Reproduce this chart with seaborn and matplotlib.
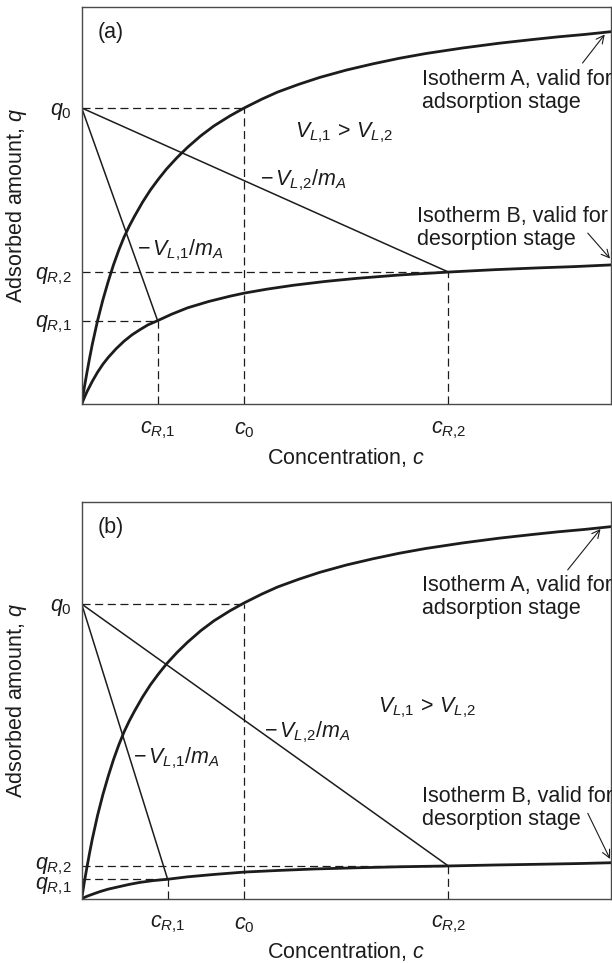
import matplotlib
matplotlib.use("Agg")
import matplotlib.pyplot as plt
import matplotlib.transforms as mtransforms
import pandas as pd
import seaborn as sns

# ---------------- data (axes units 0..1) ----------------
panel_tags = ["(a)", "(b)"]

# Isotherm A (adsorption) - same in both panels
iso_a_c = [0, 0.005, 0.01, 0.015, 0.02, 0.03, 0.04, 0.05, 0.06, 0.07, 0.08, 0.09,
           0.10, 0.115, 0.13, 0.145, 0.16, 0.18, 0.20, 0.225, 0.25, 0.28, 0.307,
           0.34, 0.37, 0.41, 0.45, 0.50, 0.55, 0.60, 0.65, 0.72, 0.789, 0.85,
           0.90, 0.95, 1.0]
iso_a_q = [0, 0.042, 0.08, 0.116, 0.15, 0.21, 0.262, 0.308, 0.35, 0.387, 0.42, 0.448,
           0.473, 0.508, 0.539, 0.566, 0.591, 0.62, 0.646, 0.675, 0.70, 0.725, 0.745,
           0.767, 0.785, 0.8045, 0.822, 0.8404, 0.856, 0.870, 0.882, 0.896, 0.908, 0.917,
           0.924, 0.930, 0.937]

# Isotherm B (desorption), panel (a)
iso_b_c_a = [0, 0.005, 0.01, 0.02, 0.03, 0.04, 0.05, 0.065, 0.08, 0.095, 0.11, 0.125,
             0.1434, 0.17, 0.20, 0.24, 0.28, 0.307, 0.35, 0.40, 0.46, 0.52, 0.60,
             0.6925, 0.78, 0.86, 0.93, 1.0]
iso_b_q_a = [0, 0.016, 0.031, 0.057, 0.08, 0.10, 0.117, 0.139, 0.158, 0.174, 0.187,
             0.199, 0.2097, 0.226, 0.242, 0.258, 0.2712, 0.279, 0.289, 0.2988, 0.3084,
             0.3162, 0.3246, 0.332, 0.338, 0.3424, 0.3457, 0.35]

# Isotherm B (desorption), panel (b)
iso_b_c_b = [0, 0.005, 0.01, 0.02, 0.035, 0.05, 0.07, 0.09, 0.11, 0.135, 0.1623, 0.20,
             0.25, 0.307, 0.37, 0.44, 0.52, 0.60, 0.6925, 0.78, 0.87, 0.94, 1.0]
iso_b_q_b = [0, 0.003, 0.006, 0.011, 0.018, 0.024, 0.030, 0.036, 0.041, 0.0455, 0.0489,
             0.055, 0.061, 0.067, 0.071, 0.0748, 0.0778, 0.0803, 0.0824, 0.0848, 0.0868,
             0.0885, 0.0905]

# characteristic points: [panel a, panel b]
q0 = [0.745, 0.742]
c0 = [0.307, 0.307]
qR1 = [0.2097, 0.0489]
cR1 = [0.1434, 0.1623]
qR2 = [0.3322, 0.0824]
cR2 = [0.6925, 0.6925]

x_tick_labels = [r"$c_{R{,}1}$", r"$c_0$", r"$c_{R{,}2}$"]
y_tick_labels = [r"$q_{R{,}1}$", r"$q_{R{,}2}$", r"$q_0$"]

label_ineq = r"$V_{L{,}1}\,>\,V_{L{,}2}$"
label_op1 = r"$-\,V_{L{,}1}/m_A$"
label_op2 = r"$-\,V_{L{,}2}/m_A$"
label_iso_a = "Isotherm A, valid for\nadsorption stage"
label_iso_b = "Isotherm B, valid for\ndesorption stage"
xlabel = "Concentration, $c$"
ylabel = "Adsorbed amount, $q$"

# ---------------- style ----------------
sns.set_style("white")
plt.rcParams["font.family"] = ["Liberation Sans", "DejaVu Sans"]
plt.rcParams["mathtext.fontset"] = "custom"
plt.rcParams["mathtext.rm"] = "Liberation Sans"
plt.rcParams["mathtext.it"] = "Liberation Sans:italic"
plt.rcParams["mathtext.bf"] = "Liberation Sans:bold"
plt.rcParams["lines.scale_dashes"] = False

FS = 15.5
INK = "#1c1c1c"
SPINE = "#4a4a4a"
DASH = (0, (5.8, 3.3))

fig = plt.figure(figsize=(6.12, 9.63), dpi=100)
axes = [fig.add_axes([0.1335, 0.5805, 0.8650, 0.4126]),
        fig.add_axes([0.1335, 0.0668, 0.8650, 0.4123])]

iso_b = [(iso_b_c_a, iso_b_q_a), (iso_b_c_b, iso_b_q_b)]

# text positions (axes fraction)
pos = [
    dict(tag=(0.031, 0.934), ineq=(0.495, 0.682), op2=(0.336, 0.564), op1=(0.104, 0.388),
         isoa=(0.643, 0.844), isob=(0.633, 0.498),
         arra=((0.946, 0.858), (0.988, 0.930)), arrb=((0.956, 0.430), (0.998, 0.366))),
    dict(tag=(0.031, 0.934), ineq=(0.653, 0.480), op2=(0.344, 0.420), op1=(0.097, 0.354),
         isoa=(0.642, 0.814), isob=(0.642, 0.284),
         arra=((0.918, 0.828), (0.980, 0.931)), arrb=((0.956, 0.215), (0.998, 0.100))),
]

for i, ax in enumerate(axes):
    # isotherms
    dfa = pd.DataFrame({"c": iso_a_c, "q": iso_a_q})
    sns.lineplot(data=dfa, x="c", y="q", ax=ax, color=INK, lw=2.0, sort=False,
                 estimator=None)
    bc, bq = iso_b[i]
    dfb = pd.DataFrame({"c": bc, "q": bq})
    sns.lineplot(data=dfb, x="c", y="q", ax=ax, color=INK, lw=2.0, sort=False,
                 estimator=None)

    # operating lines
    op1 = pd.DataFrame({"c": [0, cR1[i]], "q": [q0[i], qR1[i]]})
    op2 = pd.DataFrame({"c": [0, cR2[i]], "q": [q0[i], qR2[i]]})
    sns.lineplot(data=op1, x="c", y="q", ax=ax, color=INK, lw=1.1, sort=False,
                 estimator=None)
    sns.lineplot(data=op2, x="c", y="q", ax=ax, color=INK, lw=1.1, sort=False,
                 estimator=None)

    # dashed guide lines
    for cc, qq in [(c0[i], q0[i]), (cR1[i], qR1[i]), (cR2[i], qR2[i])]:
        ax.plot([0, cc], [qq, qq], color=INK, lw=0.9, linestyle=DASH)
        ax.plot([cc, cc], [0, qq], color=INK, lw=0.9, linestyle=DASH)

    ax.set_xlim(0, 1)
    ax.set_ylim(0, 1)
    ax.set_xticks([cR1[i], c0[i], cR2[i]])
    ax.set_xticklabels(x_tick_labels)
    ax.set_yticks([qR1[i], qR2[i], q0[i]])
    ax.set_yticklabels(y_tick_labels)
    ax.tick_params(axis="both", length=0, labelsize=FS, colors=INK)
    ax.tick_params(axis="x", pad=11)
    ax.tick_params(axis="y", pad=7)
    ax.set_xlabel(xlabel, fontsize=FS, color=INK)
    ax.set_ylabel(ylabel, fontsize=FS, color=INK)
    ax.xaxis.set_label_coords(0.5, -0.105)
    ax.yaxis.set_label_coords(-0.099, 0.5)
    for s in ax.spines.values():
        s.set_visible(True)
        s.set_color(SPINE)
        s.set_linewidth(1.0)

    if i == 1:
        # the two close q_R labels: nudge apart a little
        tl = ax.get_yticklabels()
        tl[0].set_transform(tl[0].get_transform() +
                            mtransforms.ScaledTranslation(0, -2.5 / 72, fig.dpi_scale_trans))
        tl[1].set_transform(tl[1].get_transform() +
                            mtransforms.ScaledTranslation(0, 2.5 / 72, fig.dpi_scale_trans))

    p = pos[i]
    ax.text(*p["tag"], panel_tags[i], transform=ax.transAxes, fontsize=FS,
            ha="left", va="center", color=INK)
    ax.text(*p["ineq"], label_ineq, transform=ax.transAxes, fontsize=FS,
            ha="center", va="center", color=INK)
    ax.text(*p["op2"], label_op2, transform=ax.transAxes, fontsize=FS,
            ha="left", va="center", color=INK)
    ax.text(*p["op1"], label_op1, transform=ax.transAxes, fontsize=FS,
            ha="left", va="center", color=INK)
    ax.text(*p["isoa"], label_iso_a, transform=ax.transAxes, fontsize=FS,
            ha="left", va="top", color=INK, linespacing=1.12)
    ax.text(*p["isob"], label_iso_b, transform=ax.transAxes, fontsize=FS,
            ha="left", va="top", color=INK, linespacing=1.12)
    for (xy0, xy1) in [p["arra"], p["arrb"]]:
        ax.annotate("", xy=xy1, xytext=xy0, xycoords="axes fraction",
                    textcoords="axes fraction",
                    arrowprops=dict(arrowstyle="->", color=INK, lw=0.8,
                                    shrinkA=0, shrinkB=0, mutation_scale=14),
                    annotation_clip=False)

fig.savefig("out.png", dpi=100)
